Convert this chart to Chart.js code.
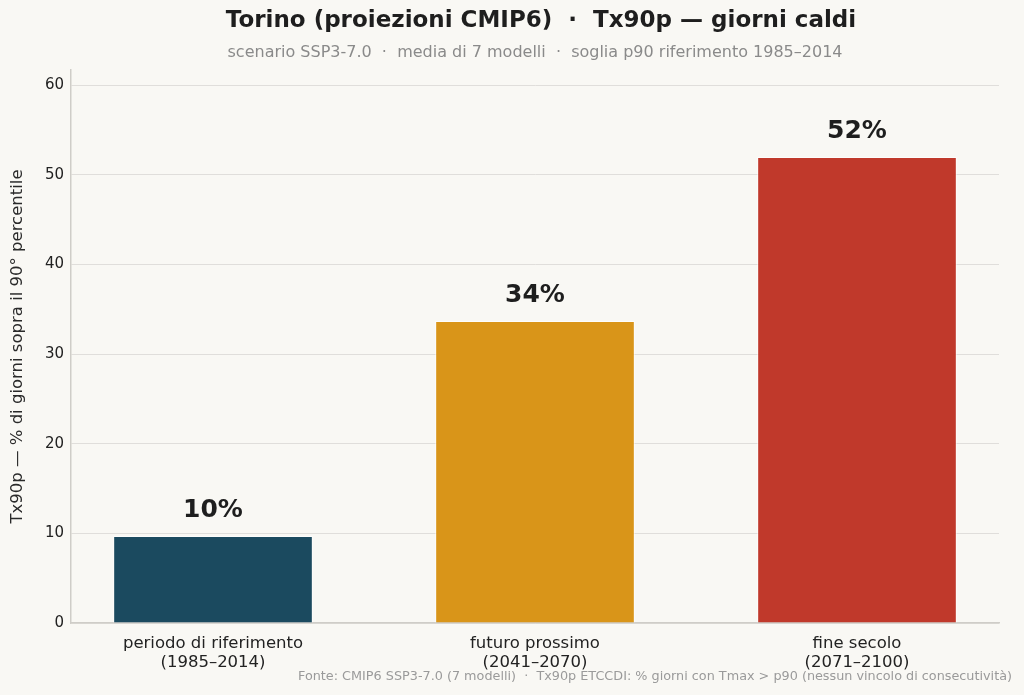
<!DOCTYPE html>
<html lang="it">
<head>
<meta charset="utf-8">
<title>Torino Tx90p</title>
<script src="https://cdn.jsdelivr.net/npm/chart.js@4.4.1/dist/chart.umd.min.js"></script>
<style>
  html, body { margin: 0; padding: 0; background: #f9f8f4; }
  canvas { display: block; }
</style>
</head>
<body>
<canvas id="chart" width="1024" height="695"></canvas>
<script>
// Data
const categories = ['periodo di riferimento', 'futuro prossimo', 'fine secolo'];
const periods = ['(1985–2014)', '(2041–2070)', '(2071–2100)'];
const values = [9.7, 33.7, 52.0];
const barColors = ['#1b4a5f', '#d99519', '#c0392b'];
const yTicks = [0, 10, 20, 30, 40, 50, 60];

const titleText = 'Torino (proiezioni CMIP6)  ·  Tx90p — giorni caldi';
const subtitleText = 'scenario SSP3-7.0  ·  media di 7 modelli  ·  soglia p90 riferimento 1985–2014';
const yTitleText = 'Tx90p — % di giorni sopra il 90° percentile';
const footerText = 'Fonte: CMIP6 SSP3-7.0 (7 modelli)  ·  Tx90p ETCCDI: % giorni con Tmax > p90 (nessun vincolo di consecutività)';

const FONT = '"DejaVu Sans", "Noto Sans", sans-serif';

// Background + texts drawn on the canvas
const decorations = {
    id: 'decorations',
    beforeDraw(chart) {
        const ctx = chart.ctx;
        ctx.save();
        ctx.fillStyle = '#f9f8f4';
        ctx.fillRect(0, 0, chart.width, chart.height);
        ctx.restore();
    },
    afterDatasetsDraw(chart) {
        const ctx = chart.ctx;
        const area = chart.chartArea;
        const cx = (area.left + area.right) / 2;
        ctx.save();

        // value labels
        ctx.fillStyle = '#1e1e1e';
        ctx.font = 'bold 25px ' + FONT;
        ctx.textAlign = 'center';
        ctx.textBaseline = 'alphabetic';
        chart.getDatasetMeta(0).data.forEach((bar, i) => {
            ctx.fillText(Math.round(values[i]) + '%', bar.x, bar.y - 19);
        });

        // title / subtitle
        ctx.font = 'bold 23px ' + FONT;
        ctx.textBaseline = 'middle';
        ctx.fillText(titleText, cx + 6, 21);
        ctx.fillStyle = '#8a8a8a';
        ctx.font = '16px ' + FONT;
        ctx.fillText(subtitleText, cx, 53);

        // y axis title
        ctx.fillStyle = '#2a2a2a';
        ctx.font = '16.5px ' + FONT;
        ctx.translate(18, (area.top + area.bottom) / 2);
        ctx.rotate(-Math.PI / 2);
        ctx.fillText(yTitleText, 0, 0);
        ctx.setTransform(1, 0, 0, 1, 0, 0);

        // footer
        ctx.fillStyle = '#9a9a9a';
        ctx.font = '12.8px ' + FONT;
        ctx.textAlign = 'right';
        ctx.fillText(footerText, 1012, 677);
        ctx.restore();
    }
};

const ctx = document.getElementById('chart');
new Chart(ctx, {
    type: 'bar',
    data: {
        datasets: [{
            data: values.map((v, i) => ({ x: i, y: v })),
            backgroundColor: barColors,
            borderColor: 'rgba(255, 255, 255, 0.7)',
            borderWidth: 1,
            categoryPercentage: 1,
            barPercentage: 0.62
        }]
    },
    options: {
        responsive: false,
        animation: false,
        devicePixelRatio: 1,
        layout: { padding: { left: 0, right: 25, top: 70, bottom: 0 } },
        plugins: {
            legend: { display: false },
            tooltip: { enabled: false }
        },
        scales: {
            x: {
                type: 'linear',
                offset: false,
                min: -0.441,
                max: 2.441,
                afterBuildTicks: (scale) => {
                    scale.ticks = categories.map((c, i) => ({ value: i }));
                },
                afterFit: (scale) => { scale.height = 72; },
                grid: { display: false, drawTicks: false },
                border: { display: true, color: '#cfcdc8', width: 1.5 },
                ticks: {
                    padding: 11,
                    color: '#222222',
                    font: { family: FONT, size: 16.5, lineHeight: 1.15 },
                    maxRotation: 0,
                    callback: (v) => [categories[v], periods[v]]
                }
            },
            y: {
                min: 0,
                max: 61.7,
                afterFit: (scale) => { scale.width = 71; },
                afterBuildTicks: (scale) => {
                    scale.ticks = yTicks.map(v => ({ value: v }));
                },
                grid: { color: '#e0dedb', lineWidth: 1, drawTicks: false },
                border: { display: true, color: '#cfcdc8', width: 1.5 },
                ticks: {
                    padding: 7,
                    color: '#222222',
                    font: { family: FONT, size: 15 }
                }
            }
        }
    },
    plugins: [decorations]
});
</script>
</body>
</html>
